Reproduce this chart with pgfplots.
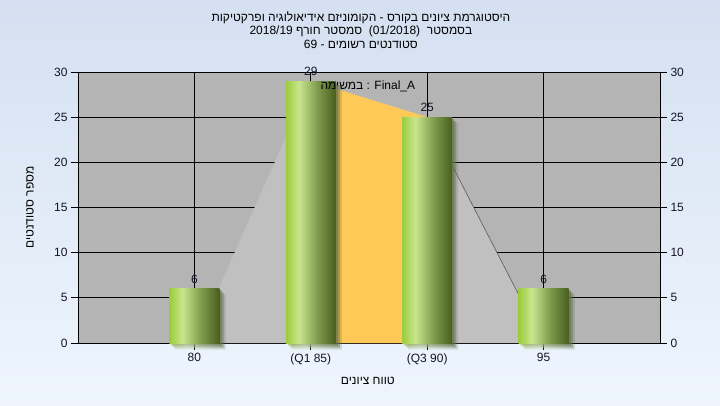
\documentclass[border=0pt]{standalone}
\usepackage{pgfplots}
\pgfplotsset{compat=1.18}
\usetikzlibrary{shadows}
\usepackage{fontspec}
\setmainfont{Liberation Sans}
\newfontfamily\heb[Script=Hebrew]{Liberation Sans}
\TeXXeTstate=1
\definecolor{bgtop}{RGB}{212,224,241}
\definecolor{bgbot}{RGB}{238,245,253}
\definecolor{plotbg}{RGB}{180,180,180}
\definecolor{areagray}{RGB}{192,192,192}
\definecolor{areaorange}{RGB}{255,201,87}
\definecolor{gA}{RGB}{155,204,60}
\definecolor{gB}{RGB}{201,229,142}
\definecolor{gC}{RGB}{128,158,78}
\definecolor{gD}{RGB}{72,94,30}
\definecolor{tickcol}{RGB}{20,20,40}
\pgfdeclarehorizontalshading{barshade}{100bp}{color(0bp)=(gA); color(25bp)=(gA); color(38bp)=(gB); color(56bp)=(gC); color(75bp)=(gD); color(100bp)=(gD)}
\newcommand{\fnt}{\fontsize{12}{13.5}\selectfont}
\pgfplotsset{mybar/.style={ybar, bar width=50pt, bar shift=0pt, draw=none, shade, shading=barshade,
  drop shadow={shadow xshift=2pt, shadow yshift=-2pt, opacity=0.35},
  drop shadow={shadow xshift=4pt, shadow yshift=-4pt, opacity=0.25},
  drop shadow={shadow xshift=6pt, shadow yshift=-6pt, opacity=0.12}}}
\begin{document}
\begin{tikzpicture}
\useasboundingbox (0pt,0pt) rectangle (720pt,405pt);
\shade[top color=bgtop, bottom color=bgbot] (0pt,0pt) rectangle (720pt,405pt);
\begin{axis}[
  at={(78pt,62pt)}, anchor=south west,
  scale only axis, width=582pt, height=271pt,
  xmin=0, xmax=5, ymin=0, ymax=30,
  xtick={1,2,3,4}, xticklabels={80,(Q1 85),(Q3 90),95},
  ytick={0,5,...,30},
  ytick pos=left, xtick pos=bottom,
  tick align=outside, major tick length=7pt,
  grid=major, major grid style={black, line width=0.75pt},
  axis line style={black, line width=0.8pt},
  tick style={black, line width=0.8pt},
  axis background/.style={fill=plotbg},
  ticklabel style={font=\fnt, text=tickcol},
  /pgf/number format/assume math mode=true,
  clip=false,
  xlabel={{\heb\beginR טווח ציונים\endR}},
  xlabel style={at={(axis description cs:0.498,-0.140)}, anchor=center, font=\fnt},
  ylabel={{\heb\beginR מספר סטודנטים\endR}},
  ylabel style={at={(axis description cs:-0.0825,0.5)}, anchor=center, font=\fnt},
  title={{\heb\beginR היסטוגרמת ציונים בקורס - הקומוניזם אידיאולוגיה ופרקטיקות\endR}\\2018/19 {\heb\beginR סמסטר חורף\endR}\ \ (01/2018)\ \ {\heb\beginR בסמסטר\endR}\\69 - {\heb\beginR סטודנטים רשומים\endR}},
  title style={at={(axis description cs:0.486,1.133)}, anchor=center, align=center, font=\fnt},
]
\addplot[fill=areagray, draw=none] coordinates {(1,0) (2,29) (3,25) (4,0)} -- cycle;
\addplot[fill=areaorange, draw=none] coordinates {(2,0) (2,29) (3,25) (3,0)} -- cycle;
\addplot[draw=black!65, line width=0.6pt] coordinates {(3,25) (4,0)};
\addplot[mybar] coordinates {(1,6)};
\addplot[mybar] coordinates {(2,29)};
\addplot[mybar] coordinates {(3,25)};
\addplot[mybar] coordinates {(4,6)};
\addplot[draw=none, nodes near coords, every node near coord/.style={font=\fnt, text=tickcol, anchor=south, inner sep=2pt, yshift=3pt}]
  coordinates {(1,6) (2,29) (3,25) (4,6)};
\node[font=\fnt, text=black] at (axis description cs:0.498,0.948) {{\heb\beginR במשימה\endR} : Final\_A};
\end{axis}
\begin{axis}[
  at={(78pt,62pt)}, anchor=south west,
  scale only axis, width=582pt, height=271pt,
  xmin=0, xmax=5, ymin=0, ymax=30,
  axis x line=none, axis y line*=right,
  ytick={0,5,...,30},
  tick align=outside, major tick length=7pt,
  axis line style={black, line width=0.8pt},
  tick style={black, line width=0.8pt},
  ticklabel style={font=\fnt, text=tickcol},
  /pgf/number format/assume math mode=true,
]
\addplot[draw=none] coordinates {(0,0) (5,30)};
\end{axis}
\end{tikzpicture}
\end{document}
